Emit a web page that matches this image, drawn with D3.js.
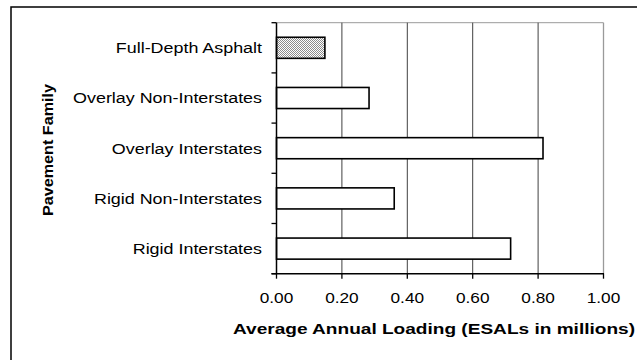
<!DOCTYPE html>
<html><head><meta charset="utf-8">
<script src="https://cdn.jsdelivr.net/npm/d3@7"></script>
<style>
html,body{margin:0;padding:0;background:#fff;}
svg{display:block;font-family:Arial,"Liberation Sans",sans-serif;}
</style></head>
<body>
<svg id="c" width="637" height="360"></svg>
<script>
const categories = ["Full-Depth Asphalt","Overlay Non-Interstates","Overlay Interstates","Rigid Non-Interstates","Rigid Interstates"];
const values = [0.148, 0.283, 0.815, 0.36, 0.716];
const patterned = [true, false, false, false, false];
const xTicks = [0, 0.2, 0.4, 0.6, 0.8, 1.0];
const xTitle = "Average Annual Loading (ESALs in millions)";
const yTitle = "Pavement Family";

const svg = d3.select("#c");
const L = 276.5, R = 603.5, T = 22.7, B = 273.7;

// outer frame
svg.append("rect").attr("x",11).attr("y",7).attr("width",700).attr("height",400)
  .attr("fill","none").attr("stroke","#000").attr("stroke-width",1.5);

const defs = svg.append("defs");
const pat = defs.append("pattern").attr("id","dots").attr("patternUnits","userSpaceOnUse")
  .attr("width",2).attr("height",2);
pat.append("rect").attr("width",2).attr("height",2).attr("fill","#fff");
pat.append("rect").attr("x",0).attr("y",0).attr("width",1).attr("height",1).attr("fill","#8c8c8c");
pat.append("rect").attr("x",1).attr("y",1).attr("width",1).attr("height",1).attr("fill","#8c8c8c");

const x = d3.scaleLinear().domain([0,1]).range([L,R]);
const y = d3.scaleBand().domain(categories).range([T,B]).paddingInner(0.58).paddingOuter(0.29);

// plot border (top / right) grey
svg.append("line").attr("x1",L).attr("x2",R).attr("y1",T).attr("y2",T).attr("stroke","#9a9a9a").attr("stroke-width",1);
// gridlines
svg.append("g").selectAll("line").data(xTicks.filter(d=>d>0)).join("line")
  .attr("x1",d=>x(d)).attr("x2",d=>x(d)).attr("y1",T).attr("y2",B)
  .attr("stroke",d=>d===1?"#9a9a9a":"#404040").attr("stroke-width",d=>d===1?1.3:1);

// bars
svg.append("g").selectAll("rect").data(categories).join("rect")
  .attr("x",x(0)).attr("y",d=>y(d))
  .attr("width",(d,i)=>x(values[i])-x(0)).attr("height",y.bandwidth())
  .attr("fill",(d,i)=>patterned[i]?"url(#dots)":"#fff")
  .attr("stroke","#000").attr("stroke-width",1.6);

// y axis
const yStep = y.step();
const yTickPos = d3.range(categories.length+1).map(i=>T+i*yStep);
svg.append("line").attr("x1",L).attr("x2",L).attr("y1",T).attr("y2",B+0.5).attr("stroke","#000").attr("stroke-width",1.5);
svg.append("g").selectAll("line").data(yTickPos).join("line")
  .attr("x1",L-5).attr("x2",L).attr("y1",d=>d).attr("y2",d=>d).attr("stroke","#000").attr("stroke-width",1.3);

// x axis
svg.append("line").attr("x1",L-5).attr("x2",R+0.5).attr("y1",B).attr("y2",B).attr("stroke","#000").attr("stroke-width",1.5);
svg.append("g").selectAll("line").data(xTicks).join("line")
  .attr("x1",d=>x(d)).attr("x2",d=>x(d)).attr("y1",B).attr("y2",B+5).attr("stroke","#000").attr("stroke-width",1.3);

// x tick labels
svg.append("g").selectAll("text").data(xTicks).join("text")
  .attr("transform",d=>`translate(${x(d)},303) scale(1.15,1)`)
  .attr("text-anchor","middle").attr("font-size",15).attr("fill","#000")
  .text(d=>d.toFixed(2));

// category labels
svg.append("g").selectAll("text").data(categories).join("text")
  .attr("transform",d=>`translate(262,${y(d)+y.bandwidth()/2+5.4}) scale(1.17,1)`)
  .attr("text-anchor","end").attr("font-size",15.3).attr("fill","#000")
  .text(d=>d);

// axis titles
svg.append("text").attr("x",434).attr("y",334).attr("text-anchor","middle")
  .attr("font-size",15).attr("font-weight","bold")
  .attr("textLength",402).attr("lengthAdjust","spacingAndGlyphs").text(xTitle);
svg.append("text").attr("transform","translate(53,150) rotate(-90)").attr("text-anchor","middle")
  .attr("font-size",15.5).attr("font-weight","bold")
  .attr("textLength",132).attr("lengthAdjust","spacingAndGlyphs").text(yTitle);
</script>
</body></html>
